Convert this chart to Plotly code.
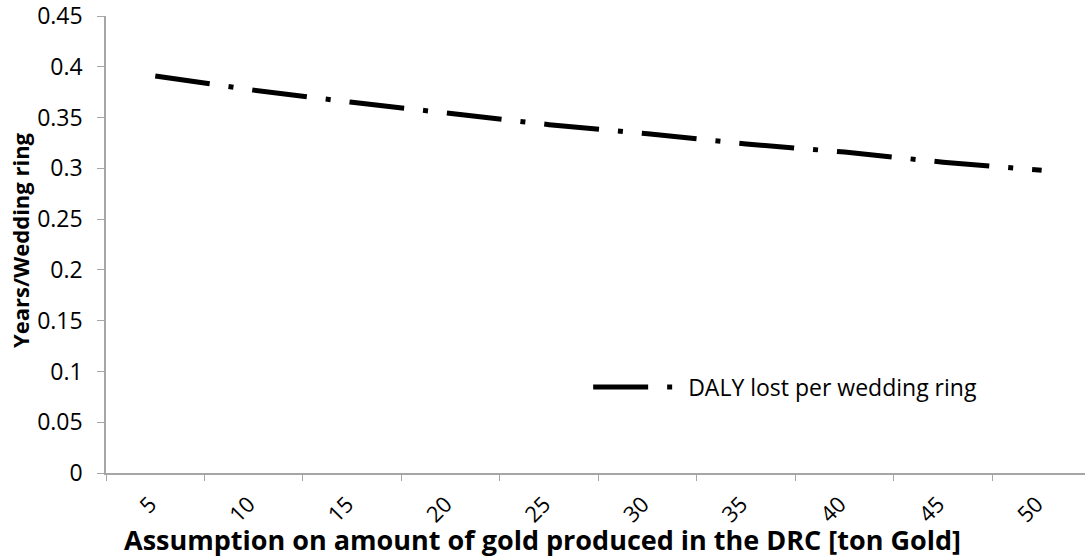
import plotly.graph_objects as go

# Gold production scenarios (tons) and resulting DALY lost per wedding ring
gold_tons = ["5", "10", "15", "20", "25", "30", "35", "40", "45", "50"]
daly_per_ring = [0.391, 0.377, 0.365, 0.354, 0.343, 0.334, 0.324, 0.316, 0.306, 0.298]

y_ticks = [0, 0.05, 0.1, 0.15, 0.2, 0.25, 0.3, 0.35, 0.4, 0.45]
y_tick_text = ["0", "0.05", "0.1", "0.15", "0.2", "0.25", "0.3", "0.35", "0.4", "0.45"]

FONT = "'Open Sans', 'Noto Sans', sans-serif"
AXIS_GREY = "#a6a6a6"

fig = go.Figure()
fig.add_trace(go.Scatter(
    x=gold_tons,
    y=daly_per_ring,
    mode="lines",
    name="DALY lost per wedding ring",
    line=dict(color="black", width=5, dash="55px,19px,5px,19px"),
))

fig.update_layout(
    width=1085,
    height=559,
    margin=dict(l=106, r=0, t=16, b=86),
    paper_bgcolor="white",
    plot_bgcolor="white",
    font=dict(family=FONT, size=22, color="black"),
    showlegend=True,
    legend=dict(
        x=0.4925, y=0.188, xanchor="left", yanchor="middle",
        bgcolor="rgba(0,0,0,0)", itemwidth=90,
        font=dict(family=FONT, size=23, color="black"),
    ),
    xaxis=dict(
        type="category",
        range=[-0.5, 9.44],
        tickson="boundaries",
        ticks="outside",
        ticklen=6,
        tickcolor=AXIS_GREY,
        tickwidth=1,
        tickangle=-45,
        showline=True,
        linecolor=AXIS_GREY,
        linewidth=1.5,
        showgrid=False,
        zeroline=False,
        ticklabelstandoff=8,
        ticklabelshift=-5,
        ticklabeloverflow="allow",
        tickfont=dict(family=FONT, size=22),
    ),
    yaxis=dict(
        range=[0, 0.45],
        tickvals=y_ticks,
        ticktext=y_tick_text,
        ticks="outside",
        ticklen=7,
        tickcolor=AXIS_GREY,
        tickwidth=1,
        showline=True,
        linecolor=AXIS_GREY,
        linewidth=1.5,
        showgrid=False,
        zeroline=False,
        ticklabelstandoff=10,
        ticklabeloverflow="allow",
        tickfont=dict(family=FONT, size=23),
    ),
    annotations=[
        dict(
            text="<b>Assumption on amount of gold produced in the DRC [ton Gold]</b>",
            xref="paper", yref="paper", x=(542 - 106) / 979, y=-(539 - 473) / 457,
            xanchor="center", yanchor="middle", showarrow=False,
            font=dict(family=FONT, size=27, color="black"),
        ),
        dict(
            text="<b>Years/Wedding ring</b>",
            xref="paper", yref="paper", x=-(106 - 20) / 979, y=(473 - 240) / 457,
            xanchor="center", yanchor="middle", showarrow=False, textangle=-90,
            font=dict(family=FONT, size=22, color="black"),
        ),
    ],
)

fig.write_html("out.html")
